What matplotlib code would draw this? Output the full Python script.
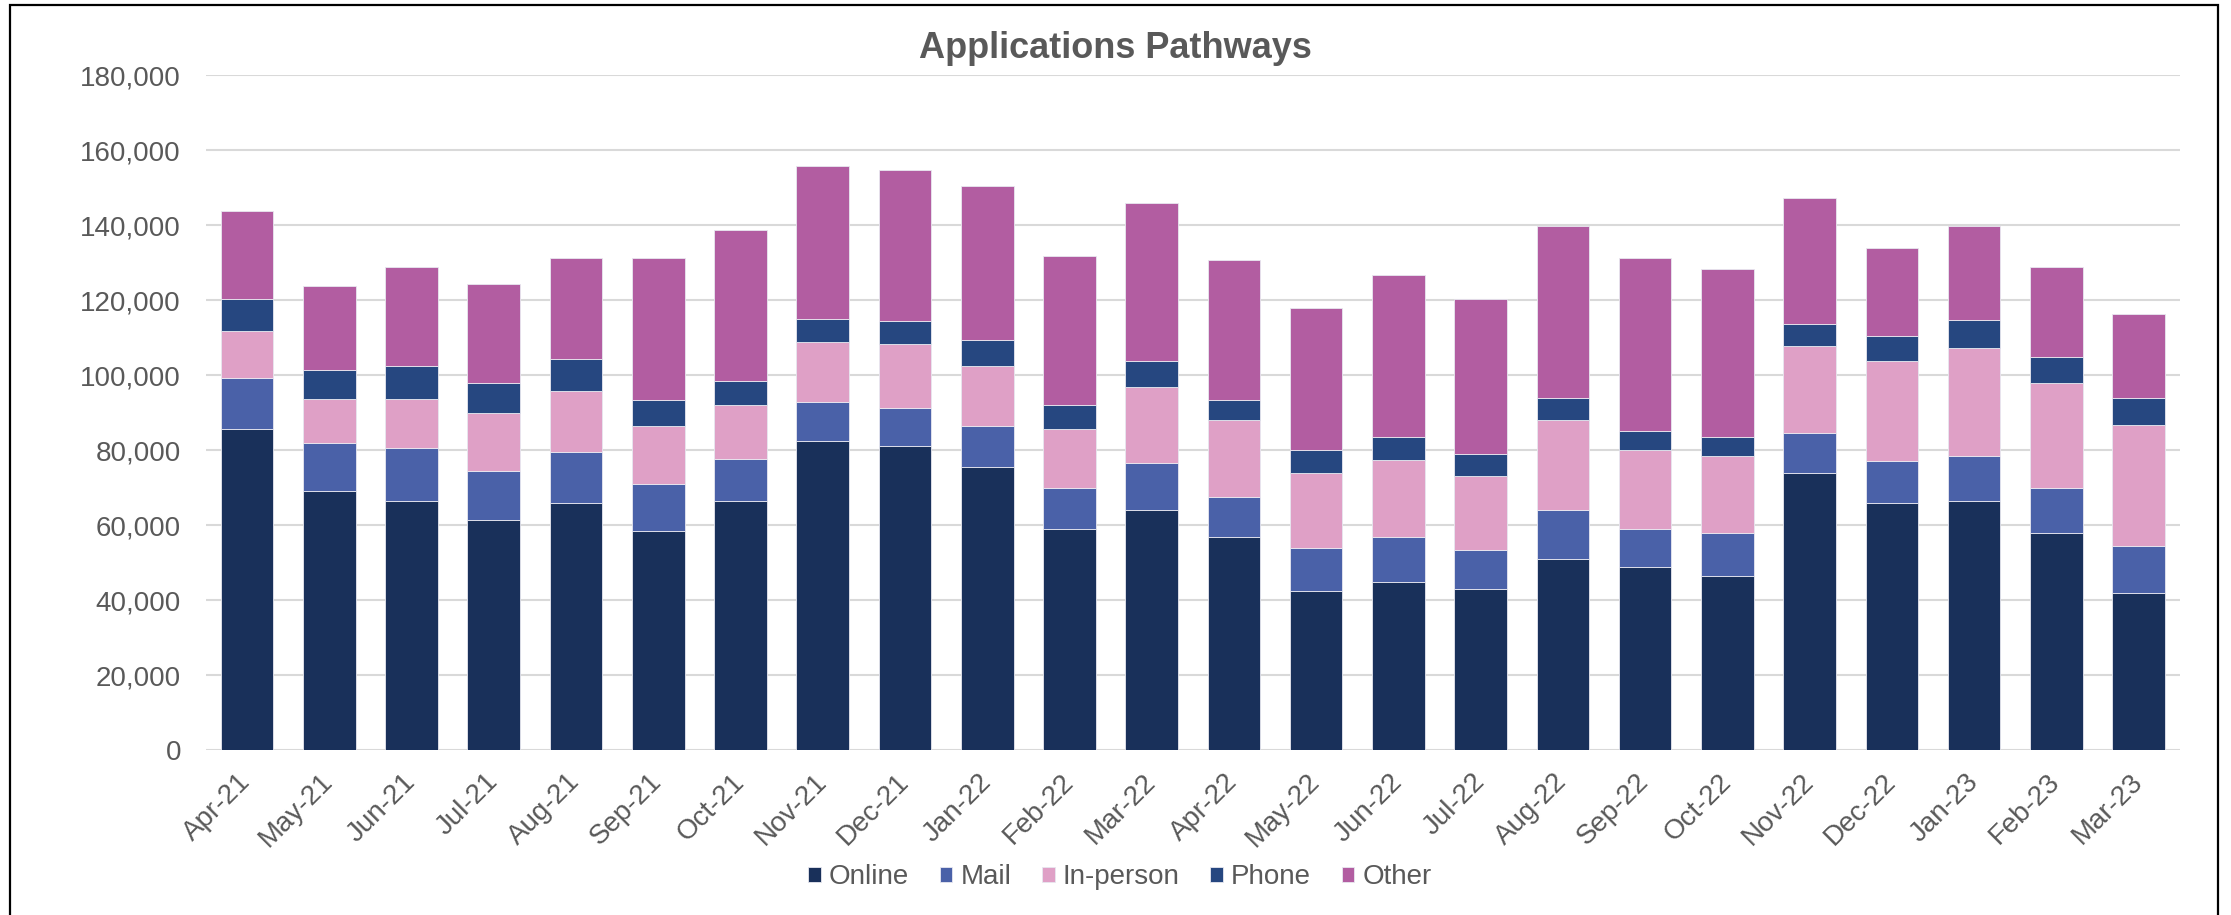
import matplotlib.pyplot as plt
import numpy as np
from matplotlib.patches import Rectangle
from matplotlib.ticker import FuncFormatter

# --- Data --- #
months = ['Apr-21', 'May-21', 'Jun-21', 'Jul-21', 'Aug-21', 'Sep-21', 'Oct-21', 'Nov-21',
          'Dec-21', 'Jan-22', 'Feb-22', 'Mar-22', 'Apr-22', 'May-22', 'Jun-22', 'Jul-22',
          'Aug-22', 'Sep-22', 'Oct-22', 'Nov-22', 'Dec-22', 'Jan-23', 'Feb-23', 'Mar-23']

online = [85600, 69200, 66400, 61300, 65900, 58400, 66400, 82400, 81100, 75600, 58900, 64100,
          56700, 42300, 44700, 42900, 50900, 48800, 46300, 73800, 65900, 66400, 57900, 41900]
mail = [13500, 12600, 14200, 13100, 13600, 12500, 11300, 10500, 10200, 10700, 10900, 12500,
        10800, 11500, 12100, 10400, 13200, 10100, 11500, 10800, 11300, 11900, 11900, 12500]
in_person = [12600, 11700, 12900, 15400, 16200, 15500, 14200, 15900, 17000, 16200, 15900, 20200,
             20600, 20000, 20500, 19900, 24000, 21100, 20500, 23100, 26500, 28800, 28200, 32200]
phone = [8500, 7900, 9000, 8200, 8600, 7000, 6600, 6200, 6200, 6900, 6200, 6900,
         5300, 6200, 6200, 5800, 5700, 5100, 5200, 5800, 6800, 7500, 6900, 7200]
other = [23500, 22400, 26300, 26300, 26900, 37800, 40100, 40700, 40100, 41100, 39800, 42300,
         37200, 38000, 43100, 41300, 45900, 46100, 44800, 33600, 23500, 25100, 23900, 22500]

series = [('Online', online, '#19305A'),
          ('Mail', mail, '#4A61A8'),
          ('In-person', in_person, '#DFA0C6'),
          ('Phone', phone, '#264780'),
          ('Other', other, '#B25DA1')]

# --- Style --- #
plt.rcParams['font.family'] = ['Liberation Sans', 'DejaVu Sans']
TEXT_COL = '#595959'

fig = plt.figure(figsize=(22.31, 9.15), dpi=100)
ax = fig.add_axes([0.0923, 0.1803, 0.8847, 0.7377])

# stacked bars
x = np.arange(len(months))
bottom = np.zeros(len(months))
for name, vals, col in series:
    ax.bar(x, vals, width=0.64, bottom=bottom, color=col, label=name,
           edgecolor='#E8E8F0', linewidth=0.6, zorder=3)
    bottom += np.array(vals)

# axes
ax.set_xlim(-0.5, len(months) - 0.5)
ax.set_ylim(0, 180000)
ax.set_yticks(np.arange(0, 180001, 20000))
ax.yaxis.set_major_formatter(FuncFormatter(lambda v, p: f'{int(v):,}'))
ax.grid(axis='y', color='#D9D9D9', linewidth=1.5, zorder=0)
for s in ax.spines.values():
    s.set_visible(False)
ax.tick_params(axis='both', length=0, labelsize=20, labelcolor=TEXT_COL)
ax.tick_params(axis='y', pad=18)
ax.tick_params(axis='x', pad=20)
ax.set_xticks(x)
ax.set_xticklabels(months, rotation=45, ha='right', va='center', rotation_mode='anchor')

# title
fig.text(0.5, 1 - 58 / 915, 'Applications Pathways', ha='center', va='baseline',
         fontsize=26, fontweight='bold', color=TEXT_COL)

# legend
fig.legend(loc='center', bbox_to_anchor=(0.502, 0.0415), ncol=5, frameon=False,
           fontsize=20, labelcolor=TEXT_COL, handlelength=0.45, handleheight=0.45,
           handletextpad=0.3, columnspacing=1.1)

# chart border
fig.patches.append(Rectangle((10 / 2231, -0.02), 2208 / 2231, 1.02 - 5 / 915,
                             transform=fig.transFigure, fill=False,
                             edgecolor='black', linewidth=1.6))

fig.savefig('out.png', dpi=100)
